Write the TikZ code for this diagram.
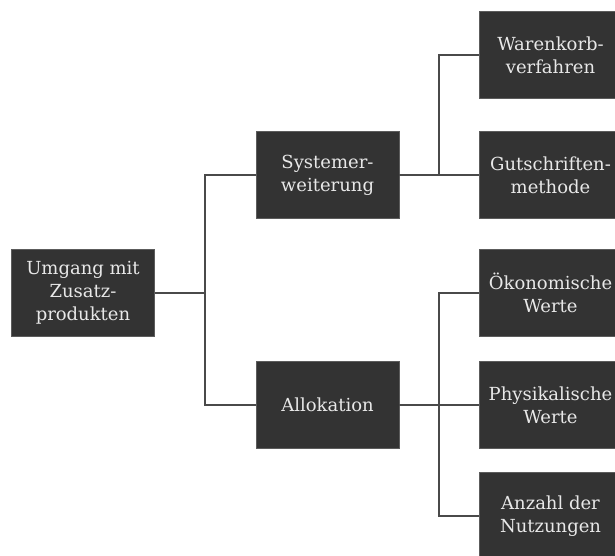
\documentclass[tikz,border=0pt]{standalone}
\usepackage{fontspec}
\setmainfont{DejaVu Serif}
\definecolor{boxfill}{HTML}{333333}
\definecolor{boxtext}{HTML}{E8E8E8}
\definecolor{linec}{HTML}{4A4A4A}
\begin{document}
\begin{tikzpicture}[x=1pt,y=-1pt,
  box/.style={fill=boxfill,draw=boxfill!80!white,line width=0.5pt,text=boxtext,minimum width=143pt,minimum height=87pt,inner sep=0pt,align=center,font=\fontsize{18}{23}\selectfont},
  conn/.style={draw=linec,line width=1.5pt}]
\useasboundingbox (0,0) rectangle (615,556);
\begin{scope}
\clip (0,0) rectangle (615,556);
\node[box] (root) at (83,293) {Umgang mit\\Zusatz-\\produkten};
\node[box] (sys) at (327.5,175) {Systemer-\\weiterung};
\node[box] (all) at (327.5,405) {Allokation};
\node[box] (wk) at (550.5,55) {Warenkorb-\\verfahren};
\node[box] (gm) at (550.5,175) {Gutschriften-\\methode};
\node[box] (ok) at (550.5,293) {Ökonomische\\Werte};
\node[box] (ph) at (550.5,405) {Physikalische\\Werte};
\node[box] (an) at (550.5,516) {Anzahl der\\Nutzungen};
\coordinate (j1) at (205,293);
\coordinate (j2) at (439,175);
\coordinate (j3) at (439,405);
\draw[conn] (root.east) -- (j1);
\draw[conn] (j1) |- (sys.west);
\draw[conn] (j1) |- (all.west);
\draw[conn] (sys.east) -- (j2);
\draw[conn] (j2) |- (wk.west);
\draw[conn] (j2) -- (gm.west);
\draw[conn] (all.east) -- (j3);
\draw[conn] (j3) |- (ok.west);
\draw[conn] (j3) -- (ph.west);
\draw[conn] (j3) |- (an.west);
\end{scope}
\end{tikzpicture}
\end{document}
